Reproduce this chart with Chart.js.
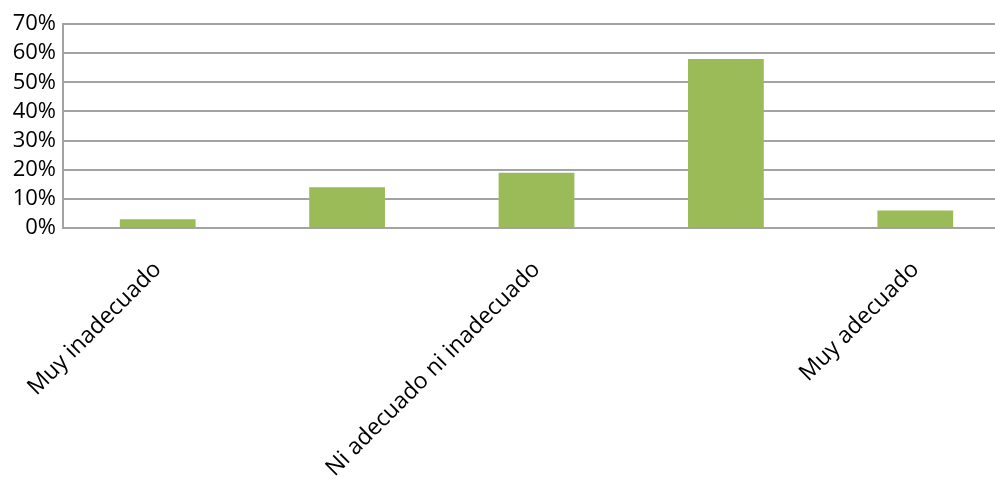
<!DOCTYPE html>
<html>
<head>
<meta charset="utf-8">
<script src="https://cdn.jsdelivr.net/npm/chart.js@4"></script>
<style>
  html, body { margin: 0; padding: 0; background: #fff; overflow: hidden; }
  .chart-container { width: 1010px; height: 485px; }
</style>
</head>
<body>
<div class="chart-container"><canvas id="myChart"></canvas></div>
<script>
const categories = ["Muy inadecuado", "Inadecuado", "Ni adecuado ni inadecuado", "Adecuado", "Muy adecuado"];
const values = [3, 14, 19, 58, 6];
// only every other category label shows in the original
const shownLabels = [true, false, true, false, true];

const gridColor = "#a3a3a3";
const fontFamily = "'Open Sans', 'Liberation Sans', sans-serif";

const ctx = document.getElementById("myChart").getContext("2d");

const data = {
  labels: categories,
  datasets: [
    {
      data: values,
      backgroundColor: "#9bbb59",
      categoryPercentage: 1,
      barPercentage: 0.4,
    },
  ],
};

const config = {
  type: "bar",
  data: data,
  options: {
    responsive: true,
    maintainAspectRatio: false,
    animation: false,
    layout: { padding: { top: 24, right: 0, left: 0, bottom: 0 } },
    plugins: {
      legend: { display: false },
      tooltip: { enabled: false },
    },
    scales: {
      x: {
        grid: { display: false },
        border: { color: gridColor, width: 2 },
        ticks: {
          autoSkip: false,
          minRotation: 45,
          maxRotation: 45,
          padding: 20,
          color: "#000",
          font: { family: fontFamily, size: 23 },
          callback: function (value, index) {
            return shownLabels[index] ? categories[index] : "";
          },
        },
        afterFit: function (scale) {
          scale.height = 257;
        },
      },
      y: {
        min: 0,
        max: 70,
        ticks: {
          stepSize: 10,
          autoSkip: false,
          padding: 7,
          color: "#000",
          font: { family: fontFamily, size: 22 },
          callback: function (value) {
            return value + "%";
          },
        },
        grid: { color: gridColor, lineWidth: 2, drawTicks: false },
        border: { color: gridColor, width: 2 },
        afterFit: function (scale) {
          scale.width = 63;
        },
      },
    },
  },
};

const chart = new Chart(ctx, config);
</script>
</body>
</html>
